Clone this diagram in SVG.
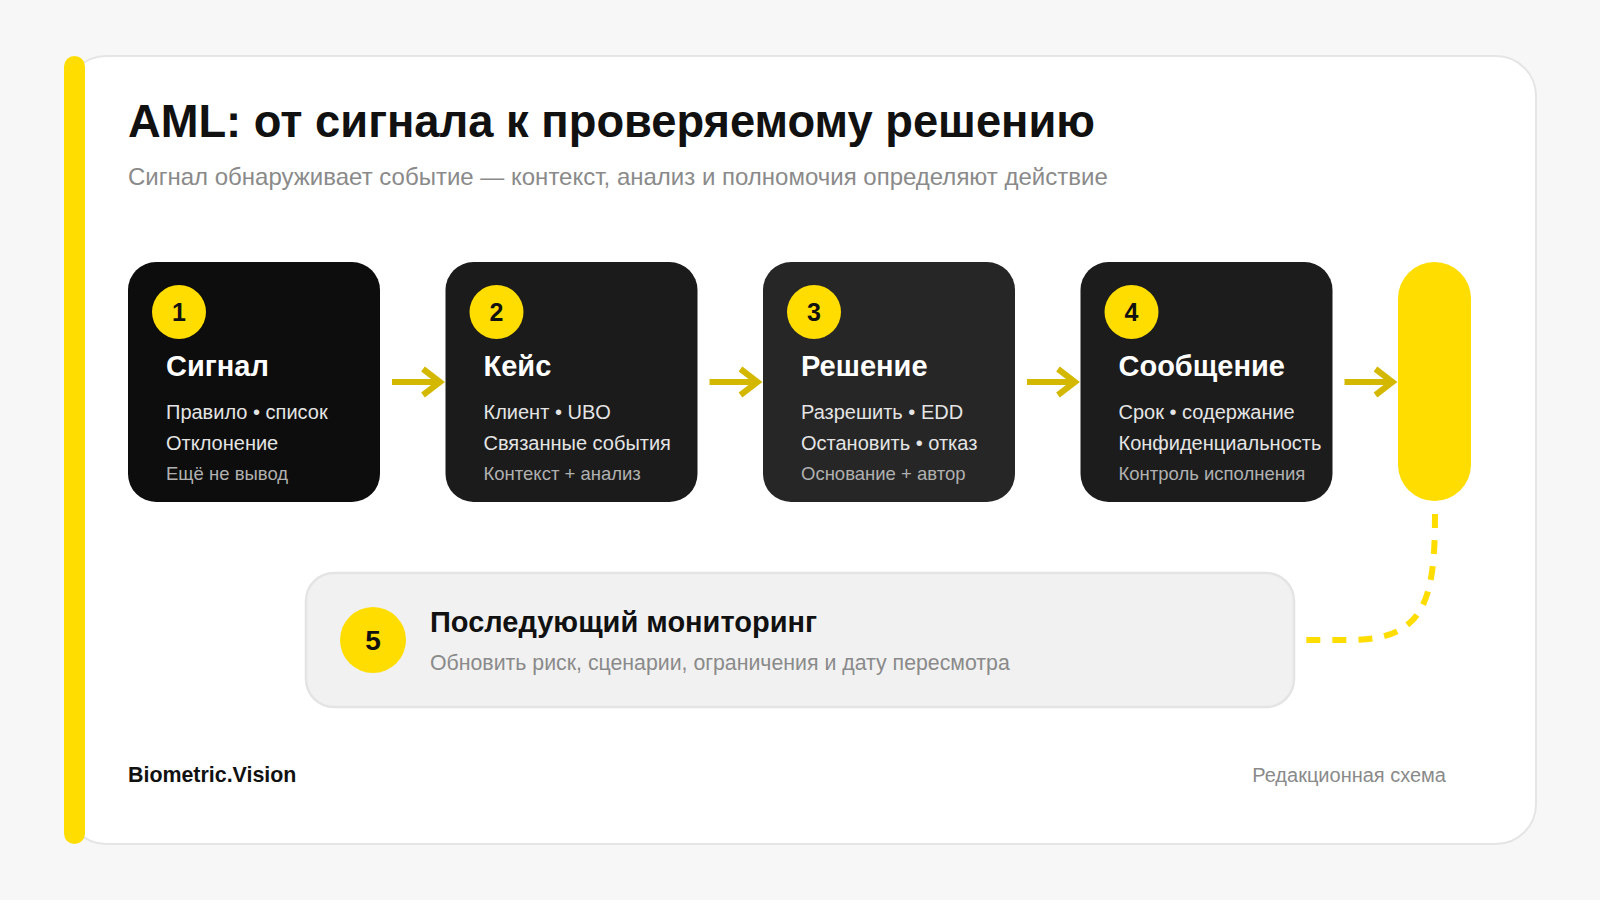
<svg xmlns="http://www.w3.org/2000/svg" width="1600" height="900" viewBox="0 0 1600 900">
  <style>
    .sans { font-family: "Liberation Sans", Arial, sans-serif; }
    .title { font-family: "Liberation Sans", Arial, sans-serif; font-weight: 700; font-size: 45.3px; fill: #111111; }
    .subtitle { font-family: "Liberation Sans", Arial, sans-serif; font-size: 24px; fill: #8a8a8a; }
    .num { font-family: "Liberation Sans", Arial, sans-serif; font-weight: 700; font-size: 25px; fill: #111111; text-anchor: middle; }
    .ctitle { font-family: "Liberation Sans", Arial, sans-serif; font-weight: 700; font-size: 29px; fill: #ffffff; }
    .cline { font-family: "Liberation Sans", Arial, sans-serif; font-size: 20px; fill: #e4e4e4; }
    .cnote { font-family: "Liberation Sans", Arial, sans-serif; font-size: 18.5px; fill: #b0b0b0; }
    .badge { fill: #FFDD00; }
    .arrow { fill: none; stroke: #D4B800; stroke-width: 6; stroke-linejoin: miter; }
    .dash { fill: none; stroke: #FFDD00; stroke-width: 6; stroke-dasharray: 14 12; }
  </style>
  <rect x="0" y="0" width="1600" height="900" fill="#f7f7f7"/>
  <rect x="66" y="56" width="1470" height="788" rx="40" fill="#ffffff" stroke="#e5e5e5" stroke-width="2"/>
  <rect x="64" y="56" width="21" height="788" rx="10.5" fill="#FFDD00"/>

  <text class="title" x="128" y="137">AML: от сигнала к проверяемому решению</text>
  <text class="subtitle" x="128" y="185">Сигнал обнаруживает событие — контекст, анализ и полномочия определяют действие</text>

  <g id="connectors">
    <path class="arrow" d="M392 382 H439 M423 369 L440 382 L423 395"/>
    <path class="arrow" d="M709.5 382 H756.5 M740.5 369 L757.5 382 L740.5 395"/>
    <path class="arrow" d="M1027 382 H1074 M1058 369 L1075 382 L1058 395"/>
    <path class="arrow" d="M1344.5 382 H1391.5 M1375.5 369 L1392.5 382 L1375.5 395"/>
    <path class="dash" d="M1435 514 C1435 600 1425 640 1350 640 L1306 640"/>
  </g>

  <g id="node-1">
    <rect x="128" y="262" width="252" height="240" rx="28" fill="#0d0d0d"/>
    <circle class="badge" cx="179" cy="312" r="27"/>
    <text class="num" x="179" y="321">1</text>
    <text class="ctitle" x="166" y="376">Сигнал</text>
    <text class="cline" x="166" y="419">Правило • список</text>
    <text class="cline" x="166" y="450">Отклонение</text>
    <text class="cnote" x="166" y="480">Ещё не вывод</text>
  </g>

  <g id="node-2">
    <rect x="445.5" y="262" width="252" height="240" rx="28" fill="#1b1b1b"/>
    <circle class="badge" cx="496.5" cy="312" r="27"/>
    <text class="num" x="496.5" y="321">2</text>
    <text class="ctitle" x="483.5" y="376">Кейс</text>
    <text class="cline" x="483.5" y="419">Клиент • UBO</text>
    <text class="cline" x="483.5" y="450">Связанные события</text>
    <text class="cnote" x="483.5" y="480">Контекст + анализ</text>
  </g>

  <g id="node-3">
    <rect x="763" y="262" width="252" height="240" rx="28" fill="#262626"/>
    <circle class="badge" cx="814" cy="312" r="27"/>
    <text class="num" x="814" y="321">3</text>
    <text class="ctitle" x="801" y="376">Решение</text>
    <text class="cline" x="801" y="419">Разрешить • EDD</text>
    <text class="cline" x="801" y="450">Остановить • отказ</text>
    <text class="cnote" x="801" y="480">Основание + автор</text>
  </g>

  <g id="node-4">
    <rect x="1080.5" y="262" width="252" height="240" rx="28" fill="#1c1c1c"/>
    <circle class="badge" cx="1131.5" cy="312" r="27"/>
    <text class="num" x="1131.5" y="321">4</text>
    <text class="ctitle" x="1118.5" y="376">Сообщение</text>
    <text class="cline" x="1118.5" y="419">Срок • содержание</text>
    <text class="cline" x="1118.5" y="450">Конфиденциальность</text>
    <text class="cnote" x="1118.5" y="480">Контроль исполнения</text>
  </g>

  <g id="node-end">
    <rect x="1398" y="262" width="73" height="239" rx="36.5" fill="#FFDD00"/>
  </g>

  <g id="node-5">
    <rect x="306" y="573" width="988" height="134" rx="28" fill="#f1f1f1" stroke="#e4e4e4" stroke-width="2.5"/>
    <circle class="badge" cx="373" cy="640" r="33"/>
    <text class="num" x="373" y="650" style="font-size:28px">5</text>
    <text class="sans" x="430" y="632" font-size="29" font-weight="700" fill="#111111">Последующий мониторинг</text>
    <text class="sans" x="430" y="670" font-size="21.3" fill="#8a8a8a">Обновить риск, сценарии, ограничения и дату пересмотра</text>
  </g>

  <text class="sans" x="128" y="782" font-size="21.4" font-weight="700" fill="#111111">Biometric.Vision</text>
  <text class="sans" x="1446" y="782" font-size="20" fill="#8a8a8a" text-anchor="end">Редакционная схема</text>
</svg>
